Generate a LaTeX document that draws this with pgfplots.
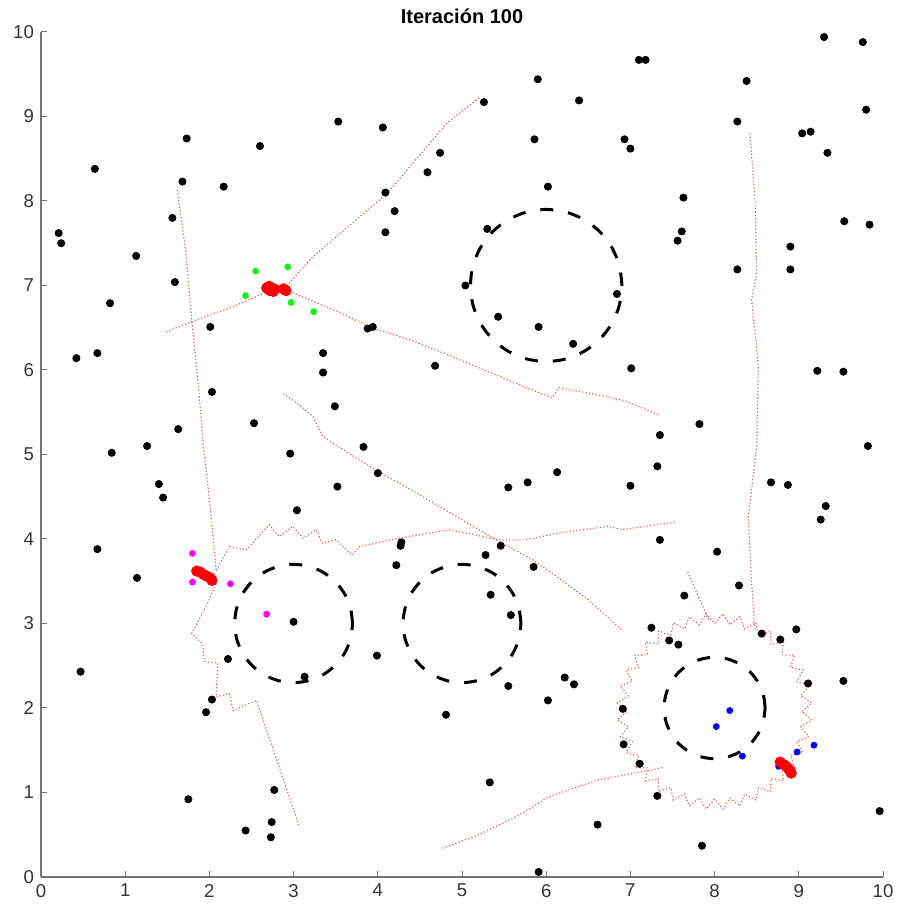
\documentclass[border=0pt]{standalone}
\usepackage{fontspec}
\setmainfont{Liberation Sans}
\usepackage{pgfplots}
\pgfplotsset{compat=1.18}
\definecolor{mgreen}{rgb}{0.1,0.95,0.1}
\definecolor{mmag}{rgb}{1,0,1}
\definecolor{mblue}{rgb}{0,0,1}
\definecolor{traj}{rgb}{0.85,0.05,0.05}
\begin{document}
\begin{tikzpicture}
\begin{axis}[
  name=ax,
  scale only axis, width=421pt, height=422.5pt,
  xmin=0, xmax=10, ymin=0, ymax=10,
  axis x line*=bottom, axis y line*=left,
  xtick={0,1,...,10}, ytick={0,1,...,10},
  tick align=inside, major tick length=3pt,
  axis line style={black!55, line width=0.6pt},
  tick style={black!55, line width=0.5pt},
  tick label style={font=\fontsize{9.3}{11}\selectfont, text=black!80},
  /pgf/number format/assume math mode=true,
  trj/.style={traj, line width=0.55pt, dash pattern=on 0.6pt off 1.1pt, opacity=0.7},
  obst/.style={black, line width=1.5pt, dash pattern=on 6.5pt off 7.5pt, smooth},
]
% --- trajectories ---
\addplot[trj] coordinates {(5.20,9.22) (4.82,8.92) (4.11,8.09) (3.23,7.34) (2.92,7.00)};
\addplot[trj] coordinates {(2.70,6.93) (2.28,6.75) (1.81,6.58) (1.48,6.45)};
\addplot[trj] coordinates {(1.62,8.13) (1.72,7.40) (1.79,6.59) (1.88,5.70) (1.93,5.09) (1.98,4.66) (2.04,4.07) (2.08,3.63)};
\addplot[trj] coordinates {(2.95,6.93) (3.50,6.70) (3.93,6.50) (4.40,6.35) (4.86,6.17) (5.50,5.90) (6.07,5.67) (6.15,5.79) (6.60,5.71) (6.95,5.63) (7.33,5.47)};
\addplot[trj] coordinates {(2.88,5.72) (3.05,5.60) (3.23,5.45) (3.35,5.21) (3.60,5.05) (4.00,4.80) (4.40,4.58) (4.86,4.31) (5.30,4.05) (5.83,3.76) (6.20,3.50) (6.50,3.28) (6.90,2.92)};
\addplot[trj] coordinates {(2.08,3.63) (2.24,3.91) (2.44,3.87) (2.71,4.17) (2.83,4.03) (2.99,4.15) (3.11,4.01) (3.27,4.11) (3.34,3.95) (3.50,3.99) (3.70,3.81) (3.78,3.91) (4.25,4.01) (4.85,4.11) (5.44,3.99) (5.75,3.99) (6.15,4.07) (6.74,4.15) (6.90,4.11) (7.53,4.20)};
\addplot[trj] coordinates {(2.08,3.47) (1.96,3.20) (1.79,2.88) (1.92,2.76) (1.94,2.55) (2.10,2.53) (2.08,2.13) (2.24,2.17) (2.28,1.97) (2.56,2.09) (3.07,0.59)};
\addplot[trj] coordinates {(4.77,0.34) (5.20,0.50) (5.64,0.71) (6.03,0.95) (6.62,1.15) (7.22,1.26) (7.40,1.30)};
\addplot[trj] coordinates {(8.42,8.80) (8.48,8.01) (8.50,7.15) (8.44,6.83) (8.52,6.04) (8.50,5.09) (8.40,4.26) (8.44,3.47) (8.48,2.92)};
\addplot[trj] coordinates {(7.68,3.61) (7.93,3.04)};
\addplot[trj] coordinates {
(9.040,1.960) (9.156,2.061) (9.024,2.141) (9.120,2.260) (8.977,2.316) (9.051,2.450)
(8.901,2.480) (8.950,2.625) (8.797,2.629) (8.820,2.780) (8.669,2.757) (8.665,2.910)
(8.520,2.861) (8.490,3.011) (8.356,2.937) (8.300,3.080) (8.181,2.984) (8.101,3.116)
(8.000,3.000) (7.899,3.116) (7.819,2.984) (7.700,3.080) (7.644,2.937) (7.510,3.011)
(7.480,2.861) (7.335,2.910) (7.331,2.757) (7.180,2.780) (7.203,2.629) (7.050,2.625)
(7.099,2.480) (6.949,2.450) (7.023,2.316) (6.880,2.260) (6.976,2.141) (6.844,2.061)
(6.960,1.960) (6.844,1.859) (6.976,1.779) (6.880,1.660) (7.023,1.604) (6.949,1.470)
(7.099,1.440) (7.050,1.295) (7.203,1.291) (7.180,1.140) (7.331,1.163) (7.335,1.010)
(7.480,1.059) (7.510,0.909) (7.644,0.983) (7.700,0.840) (7.819,0.936) (7.899,0.804)
(8.000,0.920) (8.101,0.804) (8.181,0.936) (8.300,0.840) (8.356,0.983) (8.490,0.909)
(8.520,1.059) (8.665,1.010) (8.669,1.163) (8.820,1.140) (8.797,1.291) (8.950,1.295)
(8.901,1.440) (9.051,1.470) (8.977,1.604) (9.120,1.660) (9.024,1.779) (9.156,1.859)
(9.040,1.960)};
% --- obstacles (dashed circles) ---
\addplot[obst] coordinates {(6.9,7) (6.8693,7.2329) (6.7794,7.45) (6.6364,7.6364) (6.45,7.7794) (6.2329,7.8693) (6,7.9) (5.7671,7.8693) (5.55,7.7794) (5.3636,7.6364) (5.2206,7.45) (5.1307,7.2329) (5.1,7) (5.1307,6.7671) (5.2206,6.55) (5.3636,6.3636) (5.55,6.2206) (5.7671,6.1307) (6,6.1) (6.2329,6.1307) (6.45,6.2206) (6.6364,6.3636) (6.7794,6.55) (6.8693,6.7671) (6.9,7)};
\addplot[obst] coordinates {(3.7,3) (3.6761,3.1812) (3.6062,3.35) (3.4950,3.4950) (3.35,3.6062) (3.1812,3.6761) (3,3.7) (2.8188,3.6761) (2.65,3.6062) (2.5050,3.4950) (2.3938,3.35) (2.3239,3.1812) (2.3,3) (2.3239,2.8188) (2.3938,2.65) (2.5050,2.5050) (2.65,2.3938) (2.8188,2.3239) (3,2.3) (3.1812,2.3239) (3.35,2.3938) (3.4950,2.5050) (3.6062,2.65) (3.6761,2.8188) (3.7,3)};
\addplot[obst] coordinates {(5.7,3) (5.6761,3.1812) (5.6062,3.35) (5.4950,3.4950) (5.35,3.6062) (5.1812,3.6761) (5,3.7) (4.8188,3.6761) (4.65,3.6062) (4.5050,3.4950) (4.3938,3.35) (4.3239,3.1812) (4.3,3) (4.3239,2.8188) (4.3938,2.65) (4.5050,2.5050) (4.65,2.3938) (4.8188,2.3239) (5,2.3) (5.1812,2.3239) (5.35,2.3938) (5.4950,2.5050) (5.6062,2.65) (5.6761,2.8188) (5.7,3)};
\addplot[obst] coordinates {(8.6,2) (8.5796,2.1553) (8.5196,2.3) (8.4243,2.4243) (8.3,2.5196) (8.1553,2.5796) (8,2.6) (7.8447,2.5796) (7.7,2.5196) (7.5757,2.4243) (7.4804,2.3) (7.4204,2.1553) (7.4,2) (7.4204,1.8447) (7.4804,1.7) (7.5757,1.5757) (7.7,1.4804) (7.8447,1.4204) (8,1.4) (8.1553,1.4204) (8.3,1.4804) (8.4243,1.5757) (8.5196,1.7) (8.5796,1.8447) (8.6,2)};
% --- black points ---
\addplot[only marks, mark=*, mark size=1.8pt, black] coordinates {
(0.21,7.62) (0.24,7.50) (0.64,8.38) (1.13,7.35) (0.82,6.79) (0.42,6.14) (0.67,6.20)
(1.73,8.74) (1.68,8.23) (1.56,7.80) (1.59,7.04) (2.17,8.17) (2.60,8.65) (2.01,6.51)
(2.03,5.74) (1.63,5.30) (2.53,5.37) (3.53,8.94) (4.06,8.87) (4.74,8.57) (4.59,8.34)
(4.09,8.10) (4.20,7.88) (4.09,7.63) (3.35,6.20) (3.35,5.97) (3.88,6.49) (3.94,6.51)
(4.68,6.05) (3.49,5.57) (1.26,5.10) (3.83,5.09) (9.30,9.94) (9.76,9.88) (7.10,9.67)
(7.18,9.67) (8.38,9.42) (5.90,9.44) (5.26,9.17) (6.39,9.19) (9.80,9.08) (8.27,8.94)
(9.04,8.80) (9.14,8.82) (9.34,8.57) (5.86,8.73) (6.93,8.73) (7.00,8.62) (6.02,8.17)
(7.63,8.04) (9.54,7.76) (9.84,7.72) (7.61,7.64) (7.56,7.53) (8.90,7.46) (8.90,7.19)
(8.27,7.19) (5.30,7.67) (5.04,7.00) (6.84,6.90) (5.43,6.63) (5.91,6.51) (6.32,6.31)
(7.01,6.02) (9.22,5.99) (9.53,5.98) (7.82,5.36) (7.35,5.23) (9.82,5.10) (0.84,5.02)
(2.96,5.01) (4.00,4.78) (1.40,4.65) (1.45,4.49) (3.52,4.62) (3.04,4.34) (0.67,3.88)
(1.14,3.54) (4.28,3.96) (4.27,3.92) (4.22,3.69) (3.00,3.02) (2.22,2.58) (3.13,2.37)
(3.99,2.62) (0.47,2.43) (2.03,2.10) (1.96,1.95) (4.81,1.92) (1.75,0.92) (2.77,1.03)
(2.74,0.65) (2.73,0.47) (2.43,0.55) (5.55,4.61) (5.78,4.67) (6.13,4.79) (7.00,4.63)
(7.32,4.86) (7.35,3.99) (8.67,4.67) (8.87,4.64) (9.32,4.39) (9.26,4.23) (8.03,3.85)
(5.46,3.92) (5.28,3.81) (5.85,3.67) (5.34,3.34) (5.58,3.10) (7.64,3.33) (8.29,3.45)
(7.25,2.95) (7.46,2.80) (7.57,2.75) (8.56,2.88) (8.78,2.81) (8.97,2.93) (9.11,2.29)
(9.53,2.32) (6.22,2.36) (6.33,2.28) (5.55,2.26) (6.02,2.09) (6.91,1.99) (6.92,1.57)
(7.11,1.34) (7.32,0.96) (5.33,1.12) (6.61,0.62) (7.85,0.37) (9.96,0.78) (5.91,0.06)};
% --- coloured points ---
\addplot[only marks, mark=*, mark size=1.5pt, mgreen] coordinates {(2.55,7.17) (2.93,7.22) (2.43,6.88) (2.97,6.80) (3.24,6.69)};
\addplot[only marks, mark=*, mark size=1.5pt, mmag] coordinates {(1.80,3.83) (1.80,3.49) (2.25,3.47) (2.68,3.11)};
\addplot[only marks, mark=*, mark size=1.5pt, mblue] coordinates {(8.18,1.97) (8.02,1.78) (8.33,1.43) (8.98,1.48) (9.18,1.56) (8.76,1.31)};
% --- robots (red clusters) ---
\addplot[only marks, mark=*, mark size=2.6pt, red] coordinates {
(2.68,6.97) (2.71,6.99) (2.74,6.97) (2.77,6.96) (2.72,6.94) (2.76,6.93) (2.88,6.96) (2.91,6.94)
(1.85,3.62) (1.89,3.61) (1.93,3.58) (1.97,3.56) (2.01,3.54) (2.03,3.51)
(8.78,1.36) (8.82,1.33) (8.85,1.31) (8.88,1.28) (8.90,1.25) (8.91,1.23)};
\end{axis}
\node[font=\bfseries\fontsize{10}{12}\selectfont, anchor=base] at ([yshift=4pt]ax.north) {Iteración 100};
\pgfresetboundingbox
\path ([xshift=-20.5pt,yshift=-16pt]ax.south west) rectangle ([xshift=7pt,yshift=16pt]ax.north east);
\end{tikzpicture}
\end{document}
